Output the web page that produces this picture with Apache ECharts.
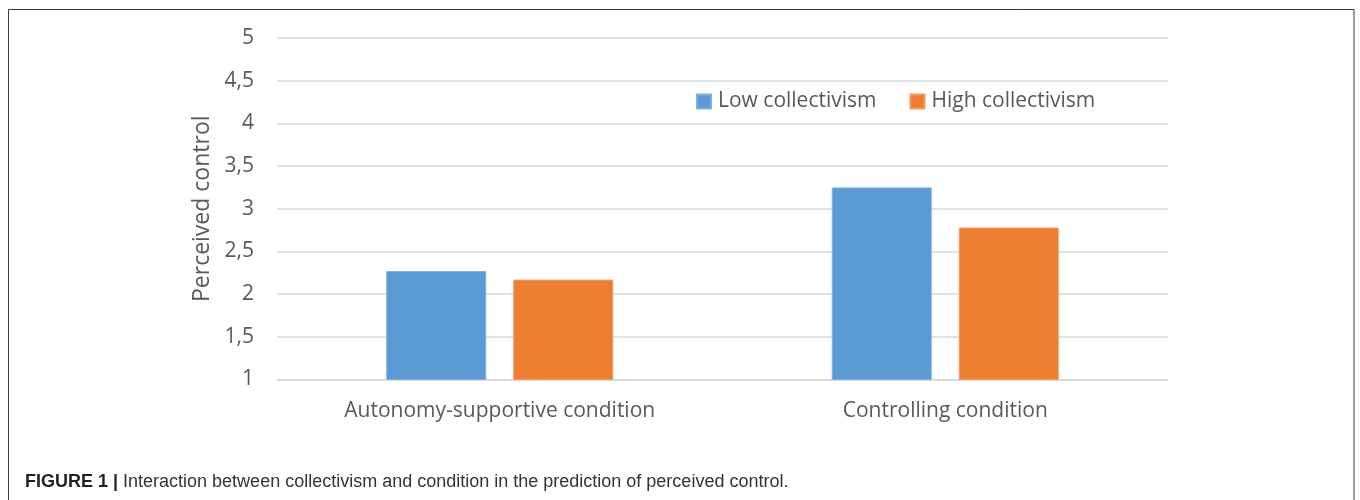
<!DOCTYPE html>
<html>
<head>
<meta charset="utf-8">
<title>Perceived control by condition and collectivism</title>
<script src="https://cdn.jsdelivr.net/npm/echarts@6/dist/echarts.min.js"></script>
<style>
  html, body { margin: 0; padding: 0; background: #ffffff; }
  #chart { width: 1360px; height: 500px; }
</style>
</head>
<body>
<div id="chart"></div>
<script>
// Conditions on the x axis
const categories = ['Autonomy-supportive condition', 'Controlling condition'];
// Mean perceived control per group
const lowCollectivism = [2.27, 3.25];
const highCollectivism = [2.17, 2.78];
const seriesNames = ['Low collectivism', 'High collectivism'];
// Y axis ticks (decimal comma labels)
const yTickValues = [1, 1.5, 2, 2.5, 3, 3.5, 4, 4.5, 5];
const yTickLabels = ['1', '1,5', '2', '2,5', '3', '3,5', '4', '4,5', '5'];
const yAxisTitle = 'Perceived control';
const captionLead = 'FIGURE 1 |';
const captionText = 'Interaction between collectivism and condition in the prediction of perceived control.';

const labelFont = '"Open Sans", "Noto Sans", sans-serif';
const captionFont = '"Liberation Sans", Arial, sans-serif';
const textGrey = '#595959';
const gridGrey = '#d9d9d9';

const chart = echarts.init(document.getElementById('chart'), null, { renderer: 'canvas' });

chart.setOption({
  animation: false,
  backgroundColor: '#ffffff',
  title: {
    text: '{b|' + captionLead + '} {r|' + captionText + '}',
    left: 25,
    top: 473,
    padding: 0,
    textStyle: {
      fontWeight: 'normal',
      fontFamily: captionFont,
      fontSize: 18,
      rich: {
        b: { fontFamily: captionFont, fontWeight: 'bold', fontSize: 18, color: '#231f20' },
        r: { fontFamily: captionFont, fontWeight: 'normal', fontSize: 18, color: '#333333' }
      }
    }
  },
  graphic: [{
    type: 'rect',
    silent: true,
    shape: { x: 8.5, y: 9.5, width: 1345.5, height: 600 },
    style: { fill: 'none', stroke: '#3a3a3a', lineWidth: 1 }
  }],
  legend: {
    data: seriesNames,
    left: 691,
    top: 86,
    itemWidth: 14,
    itemHeight: 14,
    itemGap: 33,
    icon: 'rect',
    textStyle: { fontFamily: labelFont, fontSize: 21, color: textGrey, padding: [0, 0, 0, 2] }
  },
  grid: { left: 277, right: 192, top: 38, bottom: 120.5 },
  xAxis: {
    type: 'category',
    data: categories,
    axisLine: { show: true, lineStyle: { color: gridGrey, width: 1.5 } },
    axisTick: { show: false },
    axisLabel: { fontFamily: labelFont, fontSize: 21, color: textGrey, margin: 21 }
  },
  yAxis: {
    type: 'value',
    min: 1,
    max: 5,
    interval: 0.5,
    name: yAxisTitle,
    nameLocation: 'middle',
    nameGap: 60,
    nameRotate: 90,
    nameTextStyle: { fontFamily: labelFont, fontSize: 23, color: textGrey },
    axisLine: { show: false },
    axisTick: { show: false },
    splitLine: { lineStyle: { color: gridGrey, width: 1.5 } },
    axisLabel: {
      fontFamily: labelFont,
      fontSize: 21,
      color: textGrey,
      margin: 23,
      formatter: function (v) {
        const i = yTickValues.indexOf(v);
        return i >= 0 ? yTickLabels[i] : String(v).replace('.', ',');
      }
    }
  },
  series: [
    {
      name: seriesNames[0],
      type: 'bar',
      data: lowCollectivism,
      barWidth: 100,
      barGap: '27%',
      itemStyle: { color: '#5b9bd5', borderColor: '#7eb1e0', borderWidth: 1 }
    },
    {
      name: seriesNames[1],
      type: 'bar',
      data: highCollectivism,
      barWidth: 100,
      barGap: '27%',
      itemStyle: { color: '#ed7d31', borderColor: '#f39a5c', borderWidth: 1 }
    }
  ]
});
</script>
</body>
</html>
